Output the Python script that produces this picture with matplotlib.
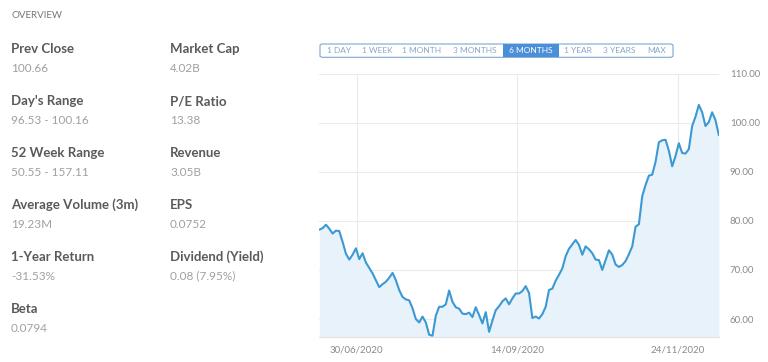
#!/usr/bin/env python

import matplotlib
matplotlib.use("Agg")
import numpy as np
from matplotlib import pyplot as plt
from matplotlib.patches import FancyBboxPatch, Rectangle

# price series, 6 months, one value per trading day
prices = [78.2, 78.5, 79.2, 78.4, 77.4, 78.0, 77.9, 75.7, 73.3, 72.1,
          73.1, 74.4, 72.2, 73.4, 71.5, 70.4, 69.3, 67.9, 66.5, 67.1,
          67.6, 68.4, 69.4, 67.9, 65.9, 64.5, 64.0, 63.8, 62.2, 60.0,
          59.3, 60.5, 59.3, 56.8, 56.6, 60.7, 62.5, 62.5, 63.0, 65.8,
          63.5, 62.4, 62.1, 61.1, 61.0, 61.3, 60.4, 62.4, 60.8, 59.1,
          61.4, 57.4, 59.7, 61.8, 62.6, 63.6, 64.2, 63.0, 64.2, 65.2,
          65.2, 65.7, 66.7, 65.3, 60.2, 60.5, 60.1, 61.0, 62.5, 65.9,
          66.2, 67.8, 69.0, 70.3, 72.8, 74.3, 75.2, 76.1, 75.1, 73.1,
          74.8, 74.2, 73.4, 72.1, 72.0, 70.0, 72.0, 74.0, 73.1, 71.1,
          70.6, 71.0, 71.8, 73.2, 74.8, 78.8, 79.3, 85.0, 87.3, 89.2,
          89.4, 92.0, 96.0, 96.4, 96.5, 94.3, 91.1, 93.2, 95.8, 93.8,
          93.7, 94.6, 99.3, 101.2, 103.6, 102.1, 99.3, 100.1, 102.1, 100.5,
          97.5]
date_labels = ["30/06/2020", "14/09/2020", "24/11/2020"]
date_index = [11.2, 59.5, 107.6]
y_ticks = [60, 70, 80, 90, 100, 110]

ranges = ["1 DAY", "1 WEEK", "1 MONTH", "3 MONTHS", "6 MONTHS", "1 YEAR", "3 YEARS", "MAX"]
range_centers = [339, 377, 422, 475, 531, 578, 619, 657]
active_range = "6 MONTHS"

stat_names = ["Prev Close", "Day's Range", "52 Week Range", "Average Volume (3m)", "1-Year Return", "Beta",
              "Market Cap", "P/E Ratio", "Revenue", "EPS", "Dividend (Yield)"]
stat_values = ["100.66", "96.53 - 100.16", "50.55 - 157.11", "19.23M", "-31.53%", "0.0794",
               "4.02B", "13.38", "3.05B", "0.0752", "0.08 (7.95%)"]

W, H = 768, 362
plt.rcParams['font.family'] = ['Lato', 'DejaVu Sans']
fig = plt.figure(figsize=(W / 100, H / 100), dpi=100)


def px(x, y):
    return x / W, 1 - y / H


# left overview block
fig.text(*px(11, 15), "OVERVIEW", fontsize=7, color="#777777", va="center")
for k, (name, val) in enumerate(zip(stat_names, stat_values)):
    col = 0 if k < 6 else 1
    row = k if k < 6 else k - 6
    x = 11 if col == 0 else 170
    y = 49 + 52 * row
    fig.text(*px(x, y), name, fontsize=9.5, fontweight="bold", color="#5a5a5a", va="center")
    fig.text(*px(x, y + 19), val, fontsize=8.5, color="#a0a0a0", va="center")

# range selector
fig.patches.append(FancyBboxPatch(px(320, 57.3), 353 / W, 13.3 / H,
                                  boxstyle="round,pad=0,rounding_size=0.004",
                                  transform=fig.transFigure, fill=False,
                                  edgecolor="#7aa7d6", linewidth=0.8))
for lab, cx in zip(ranges, range_centers):
    if lab == active_range:
        fig.patches.append(Rectangle(px(503, 57.3), 55.5 / W, 13.3 / H,
                                     transform=fig.transFigure, facecolor="#4a8fd8",
                                     edgecolor="none"))
        fig.text(*px(cx, 50.7), lab, fontsize=6, color="white", ha="center", va="center")
    else:
        fig.text(*px(cx, 50.7), lab, fontsize=6, color="#8aa6c4", ha="center", va="center")

# price chart
ax = fig.add_axes([319.3 / W, 1 - 336.7 / H, 399.5 / W, (336.7 - 73.5) / H])
x = np.arange(len(prices))
ax.fill_between(x, prices, 50, color="#e7f2fb", linewidth=0)
ax.plot(x, prices, color="#3b99d3", linewidth=1.5, solid_joinstyle="round")
ax.set_xlim(0, len(prices) - 1)
ax.set_ylim(56.4, 110)

ax.yaxis.tick_right()
ax.set_yticks(y_ticks)
ax.set_yticklabels(["%.2f" % v for v in y_ticks])
ax.set_xticks(date_index)
ax.set_xticklabels(date_labels)
ax.tick_params(length=0, labelsize=7, labelcolor="#8a8a8a")
ax.tick_params(axis="y", pad=8)
ax.tick_params(axis="x", pad=6)
ax.grid(True, color="#ebebeb", linewidth=0.8)
ax.set_axisbelow(True)
for s in ["top", "left", "right"]:
    ax.spines[s].set_visible(False)
ax.spines["bottom"].set_color("#e2e2e2")

fig.savefig("out.png", dpi=100)
